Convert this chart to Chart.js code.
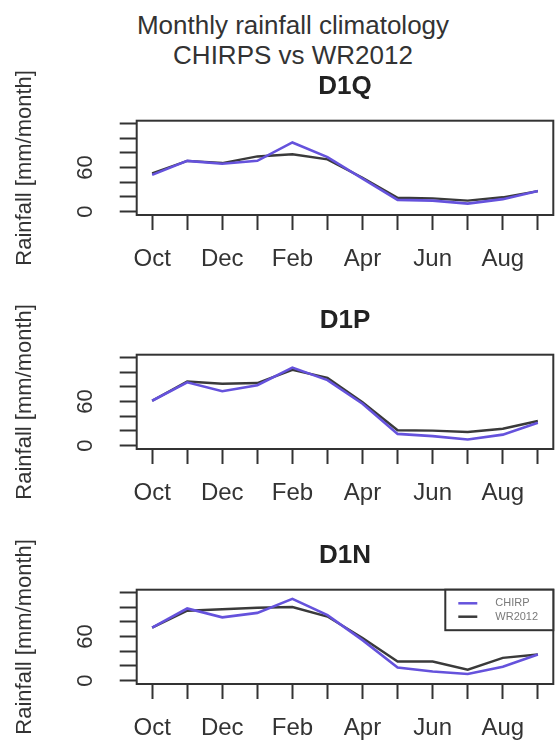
<!DOCTYPE html>
<html>
<head>
<meta charset="utf-8">
<script src="https://cdn.jsdelivr.net/npm/chart.js@4.4.1/dist/chart.umd.min.js"></script>
<style>
  html, body { margin: 0; padding: 0; background: #fff; }
  #page { position: relative; width: 558px; height: 743px; overflow: hidden;
          font-family: "Liberation Sans", Arial, sans-serif; }
  .main { position: absolute; left: 0; top: 10px; width: 586px; text-align: center;
          color: #333; font-size: 26px; line-height: 30px; }
  canvas { position: absolute; left: 0; }
</style>
</head>
<body>
<div id="page">
  <div class="main">Monthly rainfall climatology<br>CHIRPS vs WR2012</div>
  <canvas id="p0" width="558" height="234" style="top:60px"></canvas>
  <canvas id="p1" width="558" height="234" style="top:294px"></canvas>
  <canvas id="p2" width="558" height="234" style="top:529px"></canvas>
</div>
<script>
// Hydrological year, October to September
const months = ['Oct', 'Nov', 'Dec', 'Jan', 'Feb', 'Mar', 'Apr', 'May', 'Jun', 'Jul', 'Aug', 'Sep'];
const xLabelled = ['Oct', 'Dec', 'Feb', 'Apr', 'Jun', 'Aug'];
const yTicks = [0, 20, 40, 60, 80, 100, 120];
const yLabelled = [0, 60];

const panelNames = ['D1Q', 'D1P', 'D1N'];
const seriesNames = ['CHIRP', 'WR2012'];

// Mean monthly rainfall [mm/month]
const chirpD1Q = [50, 69, 65, 69, 94, 74, 45, 16, 15, 11, 17, 28];
const wrD1Q    = [52, 69, 66, 75, 78, 71, 46, 19, 18, 15, 19.5, 28];

const chirpD1P = [61, 86, 74, 82, 106, 89, 57, 16, 13, 8.5, 15, 31];
const wrD1P    = [61, 87, 84, 85, 103, 92, 59, 21, 20.5, 18.5, 23, 33.5];

const chirpD1N = [72, 98, 86, 92, 111, 89, 55, 18, 12.5, 9, 19, 35.5];
const wrD1N    = [72, 95, 97, 99, 100, 87, 58, 26, 26, 15, 31, 35.5];

const chirpSets = [chirpD1Q, chirpD1P, chirpD1N];
const wrSets = [wrD1Q, wrD1P, wrD1N];

const COL_CHIRP = '#6552dc';
const COL_WR = '#3a3a3a';
const INK = '#333';
const FONT = '"Liberation Sans", Arial, sans-serif';

// Plot frame, panel heading and the inset legend
const framePlugin = {
  id: 'frame',
  afterDatasetsDraw(chart, args, opts) {
    const { ctx, chartArea: a } = chart;
    ctx.save();
    ctx.strokeStyle = INK;
    ctx.lineWidth = 2;
    ctx.strokeRect(a.left, a.top, a.right - a.left, a.bottom - a.top);

    ctx.fillStyle = '#222';
    ctx.font = 'bold 26px ' + FONT;
    ctx.textAlign = 'center';
    ctx.textBaseline = 'alphabetic';
    ctx.fillText(opts.heading, (a.left + a.right) / 2, 34);

    if (opts.legend) {
      const lx = a.right - 108, ly = a.top, lw = 108, lh = 40.5;
      ctx.fillStyle = '#fff';
      ctx.fillRect(lx, ly, lw, lh);
      ctx.strokeRect(lx, ly, lw, lh);
      ctx.font = '11px ' + FONT;
      ctx.textAlign = 'left';
      ctx.textBaseline = 'middle';
      chart.data.datasets.forEach((ds, i) => {
        const yy = ly + 13.6 + i * 13.4;
        ctx.strokeStyle = ds.borderColor;
        ctx.lineWidth = 2.5;
        ctx.beginPath();
        ctx.moveTo(a.right - 95, yy);
        ctx.lineTo(a.right - 76, yy);
        ctx.stroke();
        ctx.fillStyle = '#7a7a7a';
        ctx.fillText(ds.label, a.right - 58, yy);
      });
    }
    ctx.restore();
  }
};

function toPoints(values) {
  return values.map((v, i) => ({ x: i + 1, y: v }));
}

function makePanel(idx) {
  const ctx = document.getElementById('p' + idx);
  new Chart(ctx, {
    type: 'line',
    data: {
      datasets: [
        { label: seriesNames[0], data: toPoints(chirpSets[idx]), borderColor: COL_CHIRP,
          borderWidth: 2.6, pointRadius: 0, tension: 0, fill: false },
        { label: seriesNames[1], data: toPoints(wrSets[idx]), borderColor: COL_WR,
          borderWidth: 2.4, pointRadius: 0, tension: 0, fill: false }
      ]
    },
    options: {
      responsive: false,
      animation: false,
      events: [],
      layout: { padding: { top: 60.7, right: 4.7, left: 0, bottom: 0 } },
      plugins: {
        legend: { display: false },
        tooltip: { enabled: false },
        title: { display: false },
        frame: { heading: panelNames[idx], legend: idx === 2 }
      },
      scales: {
        x: {
          type: 'linear',
          min: 0.56,
          max: 12.44,
          afterBuildTicks: s => { s.ticks = months.map((m, i) => ({ value: i + 1 })); },
          afterFit: s => { s.height = 79; },
          ticks: {
            autoSkip: false, maxRotation: 0, minRotation: 0, padding: 15,
            color: INK, font: { family: FONT, size: 24 },
            callback: v => { const m = months[Math.round(v) - 1]; return xLabelled.includes(m) ? m : ''; }
          },
          grid: { drawOnChartArea: false, drawTicks: true, tickLength: 15, tickWidth: 2, tickColor: INK },
          border: { display: false }
        },
        y: {
          type: 'linear',
          min: -4.5,
          max: 123.5,
          afterBuildTicks: s => { s.ticks = yTicks.map(v => ({ value: v })); },
          afterFit: s => { s.width = 136.7; },
          ticks: {
            autoSkip: false, minRotation: 90, maxRotation: 90, crossAlign: 'center', padding: 22,
            color: INK, font: { family: FONT, size: 22 },
            callback: v => yLabelled.includes(v) ? String(v) : ''
          },
          grid: { drawOnChartArea: false, drawTicks: true, tickLength: 17, tickWidth: 2, tickColor: INK },
          border: { display: false },
          title: {
            display: true, text: 'Rainfall [mm/month]', color: INK,
            font: { family: FONT, size: 22 }, padding: { top: 12, bottom: 0 }
          }
        }
      }
    },
    plugins: [framePlugin]
  });
}

[0, 1, 2].forEach(makePanel);
</script>
</body>
</html>
